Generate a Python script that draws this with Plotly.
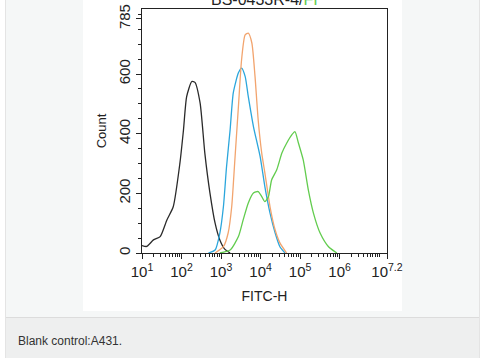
import plotly.graph_objects as go

# ---- data (log10 of FITC-H, count) ----
blank_exp = [1.00, 1.12, 1.29, 1.46, 1.63, 1.79, 1.96, 2.05, 2.13, 2.26, 2.34, 2.47, 2.59, 2.72, 2.85, 2.97, 3.10, 3.23]
blank_cnt = [25, 22, 44, 55, 111, 155, 302, 413, 524, 575, 572, 503, 335, 201, 100, 44, 12, 0]

cyan_exp = [2.68, 2.85, 2.97, 3.06, 3.14, 3.23, 3.31, 3.44, 3.52, 3.61, 3.69, 3.82, 3.99, 4.11, 4.24, 4.37, 4.49, 4.62]
cyan_cnt = [0, 10, 67, 155, 290, 413, 537, 604, 620, 592, 524, 424, 323, 222, 134, 67, 21, 0]

orange_exp = [2.85, 3.06, 3.18, 3.27, 3.35, 3.44, 3.52, 3.61, 3.69, 3.78, 3.86, 3.94, 4.03, 4.11, 4.24, 4.37, 4.49, 4.66]
orange_cnt = [0, 21, 67, 155, 312, 491, 648, 731, 737, 704, 592, 446, 335, 268, 155, 77, 34, 0]

green_exp = [2.97, 3.23, 3.44, 3.56, 3.69, 3.82, 3.94, 4.03, 4.11, 4.20, 4.28, 4.41, 4.54, 4.66, 4.79, 4.87, 4.96, 5.08, 5.21, 5.34, 5.51, 5.72, 5.93]
green_cnt = [0, 10, 55, 111, 168, 201, 206, 189, 172, 189, 245, 279, 335, 368, 396, 407, 368, 312, 211, 133, 66, 21, 0]

x_tick_exp = [1, 2, 3, 4, 5, 6, 7.2]
x_tick_text = ["10<sup>1</sup>", "10<sup>2</sup>", "10<sup>3</sup>", "10<sup>4</sup>",
               "10<sup>5</sup>", "10<sup>6</sup>", "10<sup>7.2</sup>"]
y_tick_vals = [0, 200, 400, 600, 785]

W, H = 483, 358
L, R, T, B = 142, 387, 9, 253


def px(x):
    return (x - L) / (R - L)


def py(y):
    return (B - y) / (B - T)


fig = go.Figure()
series = [
    (blank_exp, blank_cnt, "#2a2a2a"),
    (cyan_exp, cyan_cnt, "#2ba6dc"),
    (orange_exp, orange_cnt, "#f2a46e"),
    (green_exp, green_cnt, "#62cc4e"),
]
for ex, cn, col in series:
    fig.add_trace(go.Scatter(x=[10 ** e for e in ex], y=cn, mode="lines",
                             line=dict(color=col, width=1.3, shape="spline", smoothing=0.6),
                             showlegend=False, hoverinfo="skip"))

font = "Liberation Sans, Arial, sans-serif"
shapes = [
    dict(type="rect", xref="paper", yref="paper", x0=px(5), x1=px(480), y0=py(-5), y1=py(317),
         fillcolor="#f5f7f7", line=dict(width=0), layer="below"),
    dict(type="rect", xref="paper", yref="paper", x0=px(83), x1=px(402), y0=py(-5), y1=py(311),
         fillcolor="#ffffff", line=dict(width=0), layer="below"),
    dict(type="rect", xref="paper", yref="paper", x0=px(5), x1=px(480), y0=py(318), y1=py(360),
         fillcolor="#eeefef", line=dict(width=0), layer="below"),
    dict(type="line", xref="paper", yref="paper", x0=px(5), x1=px(480), y0=py(317.5), y1=py(317.5),
         line=dict(color="#dcdcdc", width=1), layer="below"),
    dict(type="line", xref="paper", yref="paper", x0=px(5.5), x1=px(5.5), y0=py(-5), y1=py(360),
         line=dict(color="#e4e4e4", width=1), layer="below"),
    dict(type="line", xref="paper", yref="paper", x0=px(479.5), x1=px(479.5), y0=py(-5), y1=py(360),
         line=dict(color="#e4e4e4", width=1), layer="below"),
]

fig.update_layout(
    width=W, height=H,
    margin=dict(l=L, r=W - R, t=T, b=H - B, pad=0, autoexpand=False),
    paper_bgcolor="#ffffff", plot_bgcolor="#ffffff",
    font=dict(family=font, color="#222222", size=13),
    shapes=shapes,
    annotations=[
        dict(text="Blank control:A431.", xref="paper", yref="paper", x=px(16), y=py(341),
             xanchor="left", yanchor="middle", showarrow=False,
             font=dict(size=12, color="#333333", family=font)),
        dict(text="BS-0433R-4/<span style='color:#62cc4e'>FI</span>", xref="paper", yref="paper",
             x=px(264), y=py(10), xanchor="center", yanchor="bottom", showarrow=False,
             font=dict(size=16, color="#222222", family=font)),
    ],
)

fig.update_xaxes(
    type="log", range=[1, 7.2], automargin=False,
    tickvals=[10 ** e for e in x_tick_exp], ticktext=x_tick_text,
    ticks="outside", ticklen=5, tickwidth=1, tickcolor="#222",
    minor=dict(ticks="outside", ticklen=3, tickcolor="#222", dtick="D1", showgrid=False),
    showline=True, linecolor="#222", linewidth=1, mirror=True,
    showgrid=False, zeroline=False,
    tickfont=dict(size=15, family=font, color="#222"),
    title=dict(text="FITC-H", font=dict(size=14, family=font, color="#222"), standoff=12),
)
fig.update_yaxes(
    range=[0, 818], automargin=False,
    tickvals=y_tick_vals, ticktext=[str(v) for v in y_tick_vals], tickangle=-90,
    ticks="outside", ticklen=5, tickwidth=1, tickcolor="#222",
    minor=dict(ticks="outside", ticklen=3, tickcolor="#222", dtick=50, showgrid=False),
    showline=True, linecolor="#222", linewidth=1, mirror=True,
    showgrid=False, zeroline=False,
    tickfont=dict(size=15, family=font, color="#222"),
    title=dict(text="Count", font=dict(size=13, family=font, color="#222"), standoff=6),
)

fig.write_html(
    "out.html",
    config={"displayModeBar": False},
    post_script="document.body.style.margin='0';document.body.style.overflow='hidden';",
)
